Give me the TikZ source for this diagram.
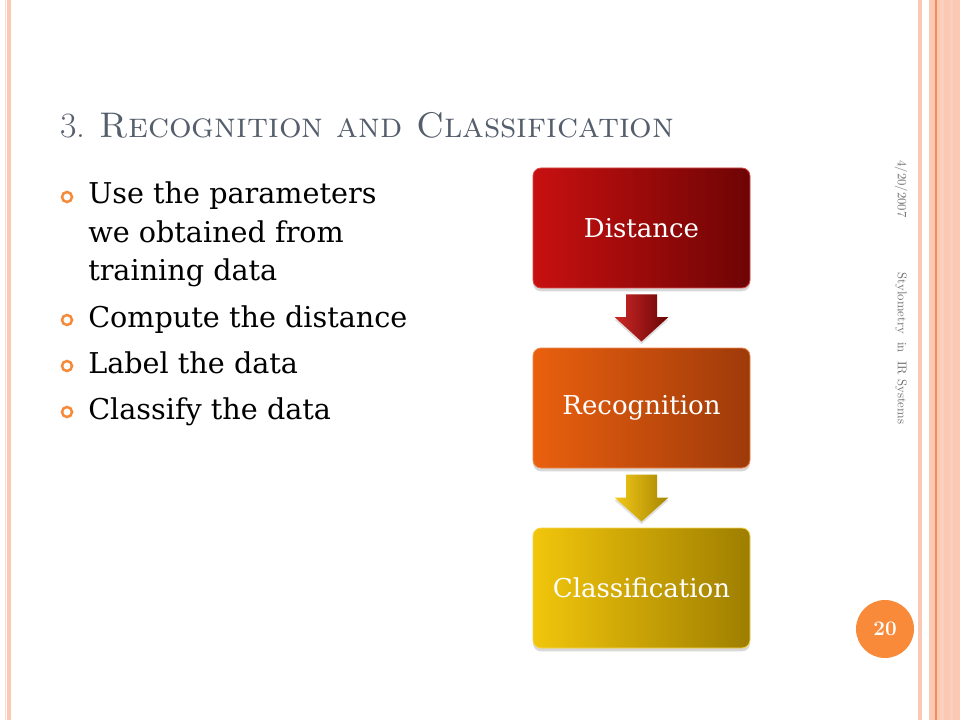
\documentclass[tikz,border=0pt]{standalone}
\usepackage{fontspec}
\newfontfamily\bodyfont{DejaVu Serif}
\usetikzlibrary{calc,shadows}
\definecolor{stripe}{RGB}{251,200,180}
\definecolor{stripeline}{RGB}{240,140,90}
\definecolor{titlec}{RGB}{85,94,108}
\definecolor{bul}{RGB}{245,138,58}
\definecolor{dL}{RGB}{200,16,16}
\definecolor{dR}{RGB}{110,4,4}
\definecolor{rL}{RGB}{234,96,14}
\definecolor{rR}{RGB}{158,58,10}
\definecolor{cL}{RGB}{242,198,12}
\definecolor{cR}{RGB}{158,126,0}
\definecolor{sidec}{RGB}{110,110,110}
\definecolor{pnum}{RGB}{248,138,58}
\begin{document}
\begin{tikzpicture}[x=0.75pt,y=-0.75pt,
  boxnode/.style={minimum width=162.75pt, minimum height=90pt, rounded corners=6pt,
    text=white, font=\bodyfont\fontsize{19.5}{22}\selectfont, inner sep=0pt, line width=0.6pt,
    drop shadow={opacity=0.3,shadow xshift=0pt,shadow yshift=-2.5pt}},
  bulletnode/.style={circle, draw=bul, line width=1.9pt, minimum size=7.5pt, inner sep=0pt},
  itemtext/.style={anchor=base west, inner sep=0pt, font=\bodyfont\fontsize{21.5}{26}\selectfont},
  sidetext/.style={rotate=-90, inner sep=0pt, text=sidec, font=\fontsize{9.5}{11}\selectfont}
]
\useasboundingbox (0,0) rectangle (960,720);
\fill[white] (0,0) rectangle (960,720);
% stripes
\fill[stripe!70] (5,0) rectangle (6.3,720);
\fill[stripe] (7,0) rectangle (11,720);
\fill[stripe] (918,0) rectangle (922,720);
\fill[stripe] (929,0) rectangle (960,720);
\fill[stripe!85!white] (940,0) rectangle (944,720);
\fill[stripe!90!white] (950,0) rectangle (953,720);
\fill[stripeline] (935,0) rectangle (936.5,720);
% title
\node[anchor=base west, inner sep=0pt, text=titlec, font=\fontsize{26.7}{30}\selectfont] (title) at (60,138) {3. \textsc{Recognition and Classification}};
% bullets
\node[bulletnode] (b1) at (67,197) {};
\node[bulletnode] (b2) at (67,320) {};
\node[bulletnode] (b3) at (67,366) {};
\node[bulletnode] (b4) at (67,412) {};
\node[itemtext] (t1a) at (88,204) {Use the parameters};
\node[itemtext] (t1b) at (88,242.5) {we obtained from};
\node[itemtext] (t1c) at (88,281) {training data};
\node[itemtext] (t2) at (88,327) {Compute the distance};
\node[itemtext] (t3) at (88,373) {Label the data};
\node[itemtext] (t4) at (88,419) {Classify the data};
% boxes
\node[boxnode, draw=dL!75!white, left color=dL, right color=dR] (d) at (641.5,228) {Distance};
\node[boxnode, draw=rL!75!white, left color=rL, right color=rR] (r) at (641.5,408) {Recognition};
\node[boxnode, draw=cL!75!white, left color=cL, right color=cR] (c) at (641.5,588) {Classification};
% arrows
\coordinate (m1) at ($(d.south)!0.5!(r.north)$);
\coordinate (m2) at ($(r.south)!0.5!(c.north)$);
\shade[left color=dL!90!white, right color=dR!95!black, drop shadow={opacity=0.25,shadow xshift=0pt,shadow yshift=-2pt}]
  ($(m1)+(-15.5,-23.5)$) -- ($(m1)+(15.5,-23.5)$) -- ($(m1)+(15.5,-1)$) -- ($(m1)+(27,-1)$)
  -- ($(m1)+(0,23.5)$) -- ($(m1)+(-27,-1)$) -- ($(m1)+(-15.5,-1)$) -- cycle;
\shade[left color=cL!95!white, right color=cR!90!cL, drop shadow={opacity=0.25,shadow xshift=0pt,shadow yshift=-2pt}]
  ($(m2)+(-15.5,-23.5)$) -- ($(m2)+(15.5,-23.5)$) -- ($(m2)+(15.5,-0.5)$) -- ($(m2)+(27,-0.5)$)
  -- ($(m2)+(0,23.5)$) -- ($(m2)+(-27,-0.5)$) -- ($(m2)+(-15.5,-0.5)$) -- cycle;
% side text
\node[sidetext] (date) at (901,189) {4/20/2007};
\node[sidetext] (foot) at (901,348.5) {Stylometry\ \ in\ \ IR Systems};
% page number
\node[circle, fill=pnum, minimum size=43.5pt, inner sep=0pt, text=white, font=\bfseries\fontsize{15.5}{17}\selectfont] (pg) at (885,629) {20};
\end{tikzpicture}
\end{document}
